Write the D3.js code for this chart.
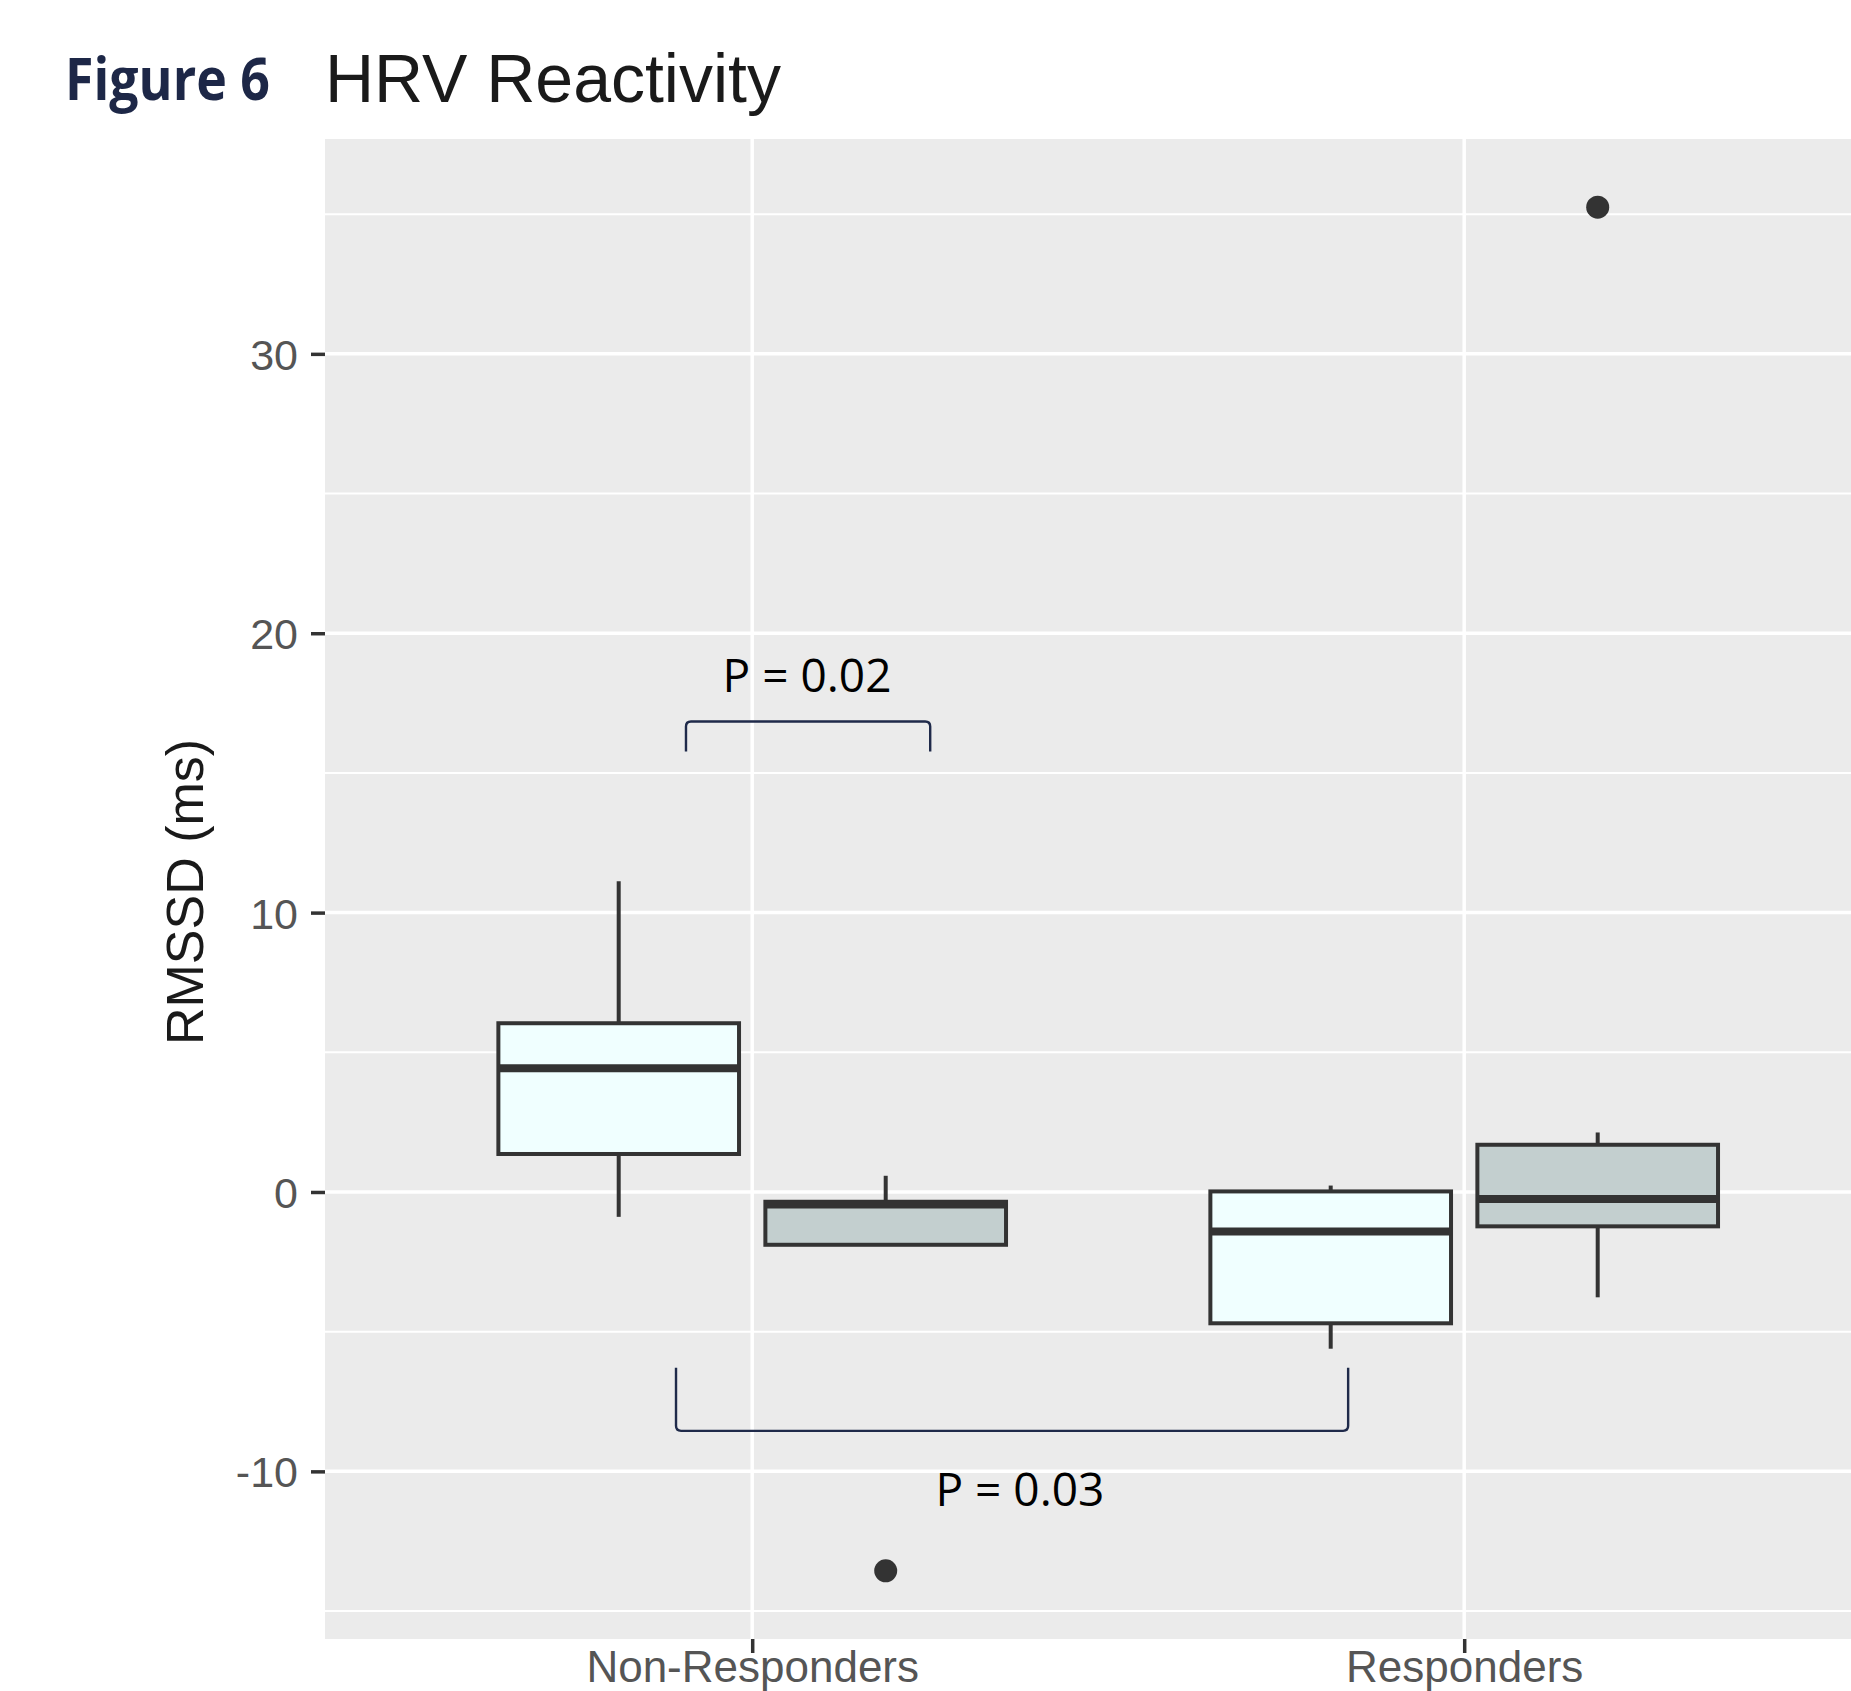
<!DOCTYPE html>
<html>
<head>
<meta charset="utf-8">
<script src="https://cdn.jsdelivr.net/npm/d3@7"></script>
<style>
  html, body { margin: 0; padding: 0; background: #ffffff; }
  svg { display: block; }
</style>
</head>
<body>
<svg id="chart" width="1851" height="1691"></svg>
<script>
// ---------------- data ----------------
const categories = ["Non-Responders", "Responders"];
const groups = ["light", "dark"];
// five-number summaries per category, per group: [lowerWhisker, Q1, median, Q3, upperWhisker]
const lightStats = [
  [-0.89, 1.36, 4.43, 6.04, 11.12],
  [-5.61, -4.70, -1.41, 0.02, 0.23]
];
const darkStats = [
  [-1.89, -1.89, -0.45, -0.35, 0.58],
  [-3.77, -1.23, -0.25, 1.69, 2.13]
];
const outliers = [
  { cat: 0, group: "dark", value: -13.56 },
  { cat: 1, group: "dark", value: 35.25 }
];
const yTicks = [-10, 0, 10, 20, 30];
const yMinor = [-15, -5, 5, 15, 25, 35];
// significance annotations: bracket ends in category units, heights in data units
const brackets = [
  { x0: -0.093, x1: 0.25, yBar: 16.84, yEnd: 15.77, label: "P = 0.02", xLabel: 0.077, yLabel: 17.91 },
  { x0: -0.107, x1: 0.837, yBar: -8.55, yEnd: -6.29, label: "P = 0.03", xLabel: 0.376, yLabel: -11.23 }
];

// ---------------- layout ----------------
const svg = d3.select("#chart");
const W = 1851, H = 1691;
const panel = { left: 325, top: 139, bottom: 1639 };
const catStep = 712;
const dodge = { light: -0.1875, dark: 0.1875 };
const boxW = 0.338;
const fills = { light: "#f0ffff", dark: "#c3cfcf" };

const allVals = [];
lightStats.concat(darkStats).forEach(s => allVals.push(s[0], s[4]));
outliers.forEach(o => allVals.push(o.value));
const ext = d3.extent(allVals);
const pad = (ext[1] - ext[0]) * 0.05;

const y = d3.scaleLinear().domain([ext[0] - pad, ext[1] + pad]).range([panel.bottom, panel.top]);
const x = d3.scaleLinear().domain([-0.6, 1.6]).range([panel.left, panel.left + 2.2 * catStep]);

// panel background
svg.append("rect")
  .attr("x", panel.left).attr("y", panel.top)
  .attr("width", W - panel.left).attr("height", panel.bottom - panel.top)
  .attr("fill", "#ebebeb");

const grid = svg.append("g");
grid.selectAll(".minor").data(yMinor).join("line")
  .attr("x1", panel.left).attr("x2", W)
  .attr("y1", d => y(d)).attr("y2", d => y(d))
  .attr("stroke", "#ffffff").attr("stroke-width", 2);
grid.selectAll(".major").data(yTicks).join("line")
  .attr("x1", panel.left).attr("x2", W)
  .attr("y1", d => y(d)).attr("y2", d => y(d))
  .attr("stroke", "#ffffff").attr("stroke-width", 3.5);
grid.selectAll(".vmajor").data([0, 1]).join("line")
  .attr("x1", d => x(d)).attr("x2", d => x(d))
  .attr("y1", panel.top).attr("y2", panel.bottom)
  .attr("stroke", "#ffffff").attr("stroke-width", 3.5);

// ---------------- boxes ----------------
const boxes = [];
lightStats.forEach((s, i) => boxes.push({ cat: i, group: "light", s }));
darkStats.forEach((s, i) => boxes.push({ cat: i, group: "dark", s }));

const bg = svg.append("g");
boxes.forEach(b => {
  const cx = b.cat + dodge[b.group];
  const g = bg.append("g");
  // whiskers
  g.append("line")
    .attr("x1", x(cx)).attr("x2", x(cx))
    .attr("y1", y(b.s[4])).attr("y2", y(b.s[3]))
    .attr("stroke", "#333333").attr("stroke-width", 4);
  g.append("line")
    .attr("x1", x(cx)).attr("x2", x(cx))
    .attr("y1", y(b.s[1])).attr("y2", y(b.s[0]))
    .attr("stroke", "#333333").attr("stroke-width", 4);
  // box
  g.append("rect")
    .attr("x", x(cx - boxW / 2)).attr("y", y(b.s[3]))
    .attr("width", x(cx + boxW / 2) - x(cx - boxW / 2))
    .attr("height", y(b.s[1]) - y(b.s[3]))
    .attr("fill", fills[b.group])
    .attr("stroke", "#333333").attr("stroke-width", 4);
  // median
  g.append("line")
    .attr("x1", x(cx - boxW / 2)).attr("x2", x(cx + boxW / 2))
    .attr("y1", y(b.s[2])).attr("y2", y(b.s[2]))
    .attr("stroke", "#333333").attr("stroke-width", 8);
});

svg.append("g").selectAll("circle").data(outliers).join("circle")
  .attr("cx", d => x(d.cat + dodge[d.group]))
  .attr("cy", d => y(d.value))
  .attr("r", 11.5)
  .attr("fill", "#333333");

// ---------------- axes ----------------
const yAxis = d3.axisLeft(y).tickValues(yTicks).tickSize(14).tickPadding(13)
  .tickFormat(d => String(d).replace("\u2212", "-"));
const yg = svg.append("g").attr("transform", `translate(${panel.left},0)`).call(yAxis);
yg.select(".domain").remove();
yg.selectAll(".tick line").attr("stroke", "#333333").attr("stroke-width", 3.5);
yg.selectAll(".tick text")
  .attr("fill", "#555555")
  .style("font-family", "'Liberation Sans', Arial, sans-serif")
  .style("font-size", "43px")
  .attr("dy", "0.36em");

const xAxis = d3.axisBottom(x).tickValues([0, 1]).tickSize(14).tickPadding(0)
  .tickFormat(i => categories[i]);
const xg = svg.append("g").attr("transform", `translate(0,${panel.bottom})`).call(xAxis);
xg.select(".domain").remove();
xg.selectAll(".tick line").attr("stroke", "#333333").attr("stroke-width", 3.5);
xg.selectAll(".tick text")
  .attr("fill", "#555555")
  .attr("y", 43).attr("dy", 0)
  .style("font-family", "'Liberation Sans', Arial, sans-serif")
  .style("font-size", "44px");

// y title
svg.append("text")
  .attr("transform", `translate(203,${(y(ext[0] - pad) + y(ext[1] + pad)) / 2 + 3}) rotate(-90)`)
  .attr("text-anchor", "middle")
  .attr("fill", "#1a1a1a")
  .style("font-family", "'Liberation Sans', Arial, sans-serif")
  .style("font-size", "52px")
  .text("RMSSD (ms)");

// ---------------- annotations ----------------
const ag = svg.append("g");
brackets.forEach(b => {
  const xa = x(b.x0), xb = x(b.x1), yb = y(b.yBar), ye = y(b.yEnd);
  const dir = ye > yb ? 1 : -1;
  const p = d3.path();
  p.moveTo(xa, ye);
  p.lineTo(xa, yb + dir * 5);
  p.quadraticCurveTo(xa, yb, xa + 5, yb);
  p.lineTo(xb - 5, yb);
  p.quadraticCurveTo(xb, yb, xb, yb + dir * 5);
  p.lineTo(xb, ye);
  ag.append("path").attr("d", p.toString())
    .attr("fill", "none").attr("stroke", "#1f2a4a").attr("stroke-width", 2.4);
  ag.append("text")
    .attr("x", x(b.xLabel)).attr("y", y(b.yLabel))
    .attr("text-anchor", "middle")
    .attr("fill", "#000000")
    .style("font-family", "'Open Sans', 'Noto Sans', sans-serif")
    .style("font-size", "46px")
    .text(b.label);
});

// ---------------- titles ----------------
svg.append("text")
  .attr("x", 65).attr("y", 100)
  .attr("fill", "#1d2747")
  .attr("textLength", 205).attr("lengthAdjust", "spacingAndGlyphs")
  .style("font-family", "'Open Sans', 'Noto Sans', sans-serif")
  .style("font-weight", "700")
  .style("font-size", "59px")
  .text("Figure 6");
svg.append("text")
  .attr("x", 325).attr("y", 102)
  .attr("fill", "#1a1a1a")
  .style("font-family", "'Liberation Sans', Arial, sans-serif")
  .style("font-size", "68px")
  .text("HRV Reactivity");
</script>
</body>
</html>
